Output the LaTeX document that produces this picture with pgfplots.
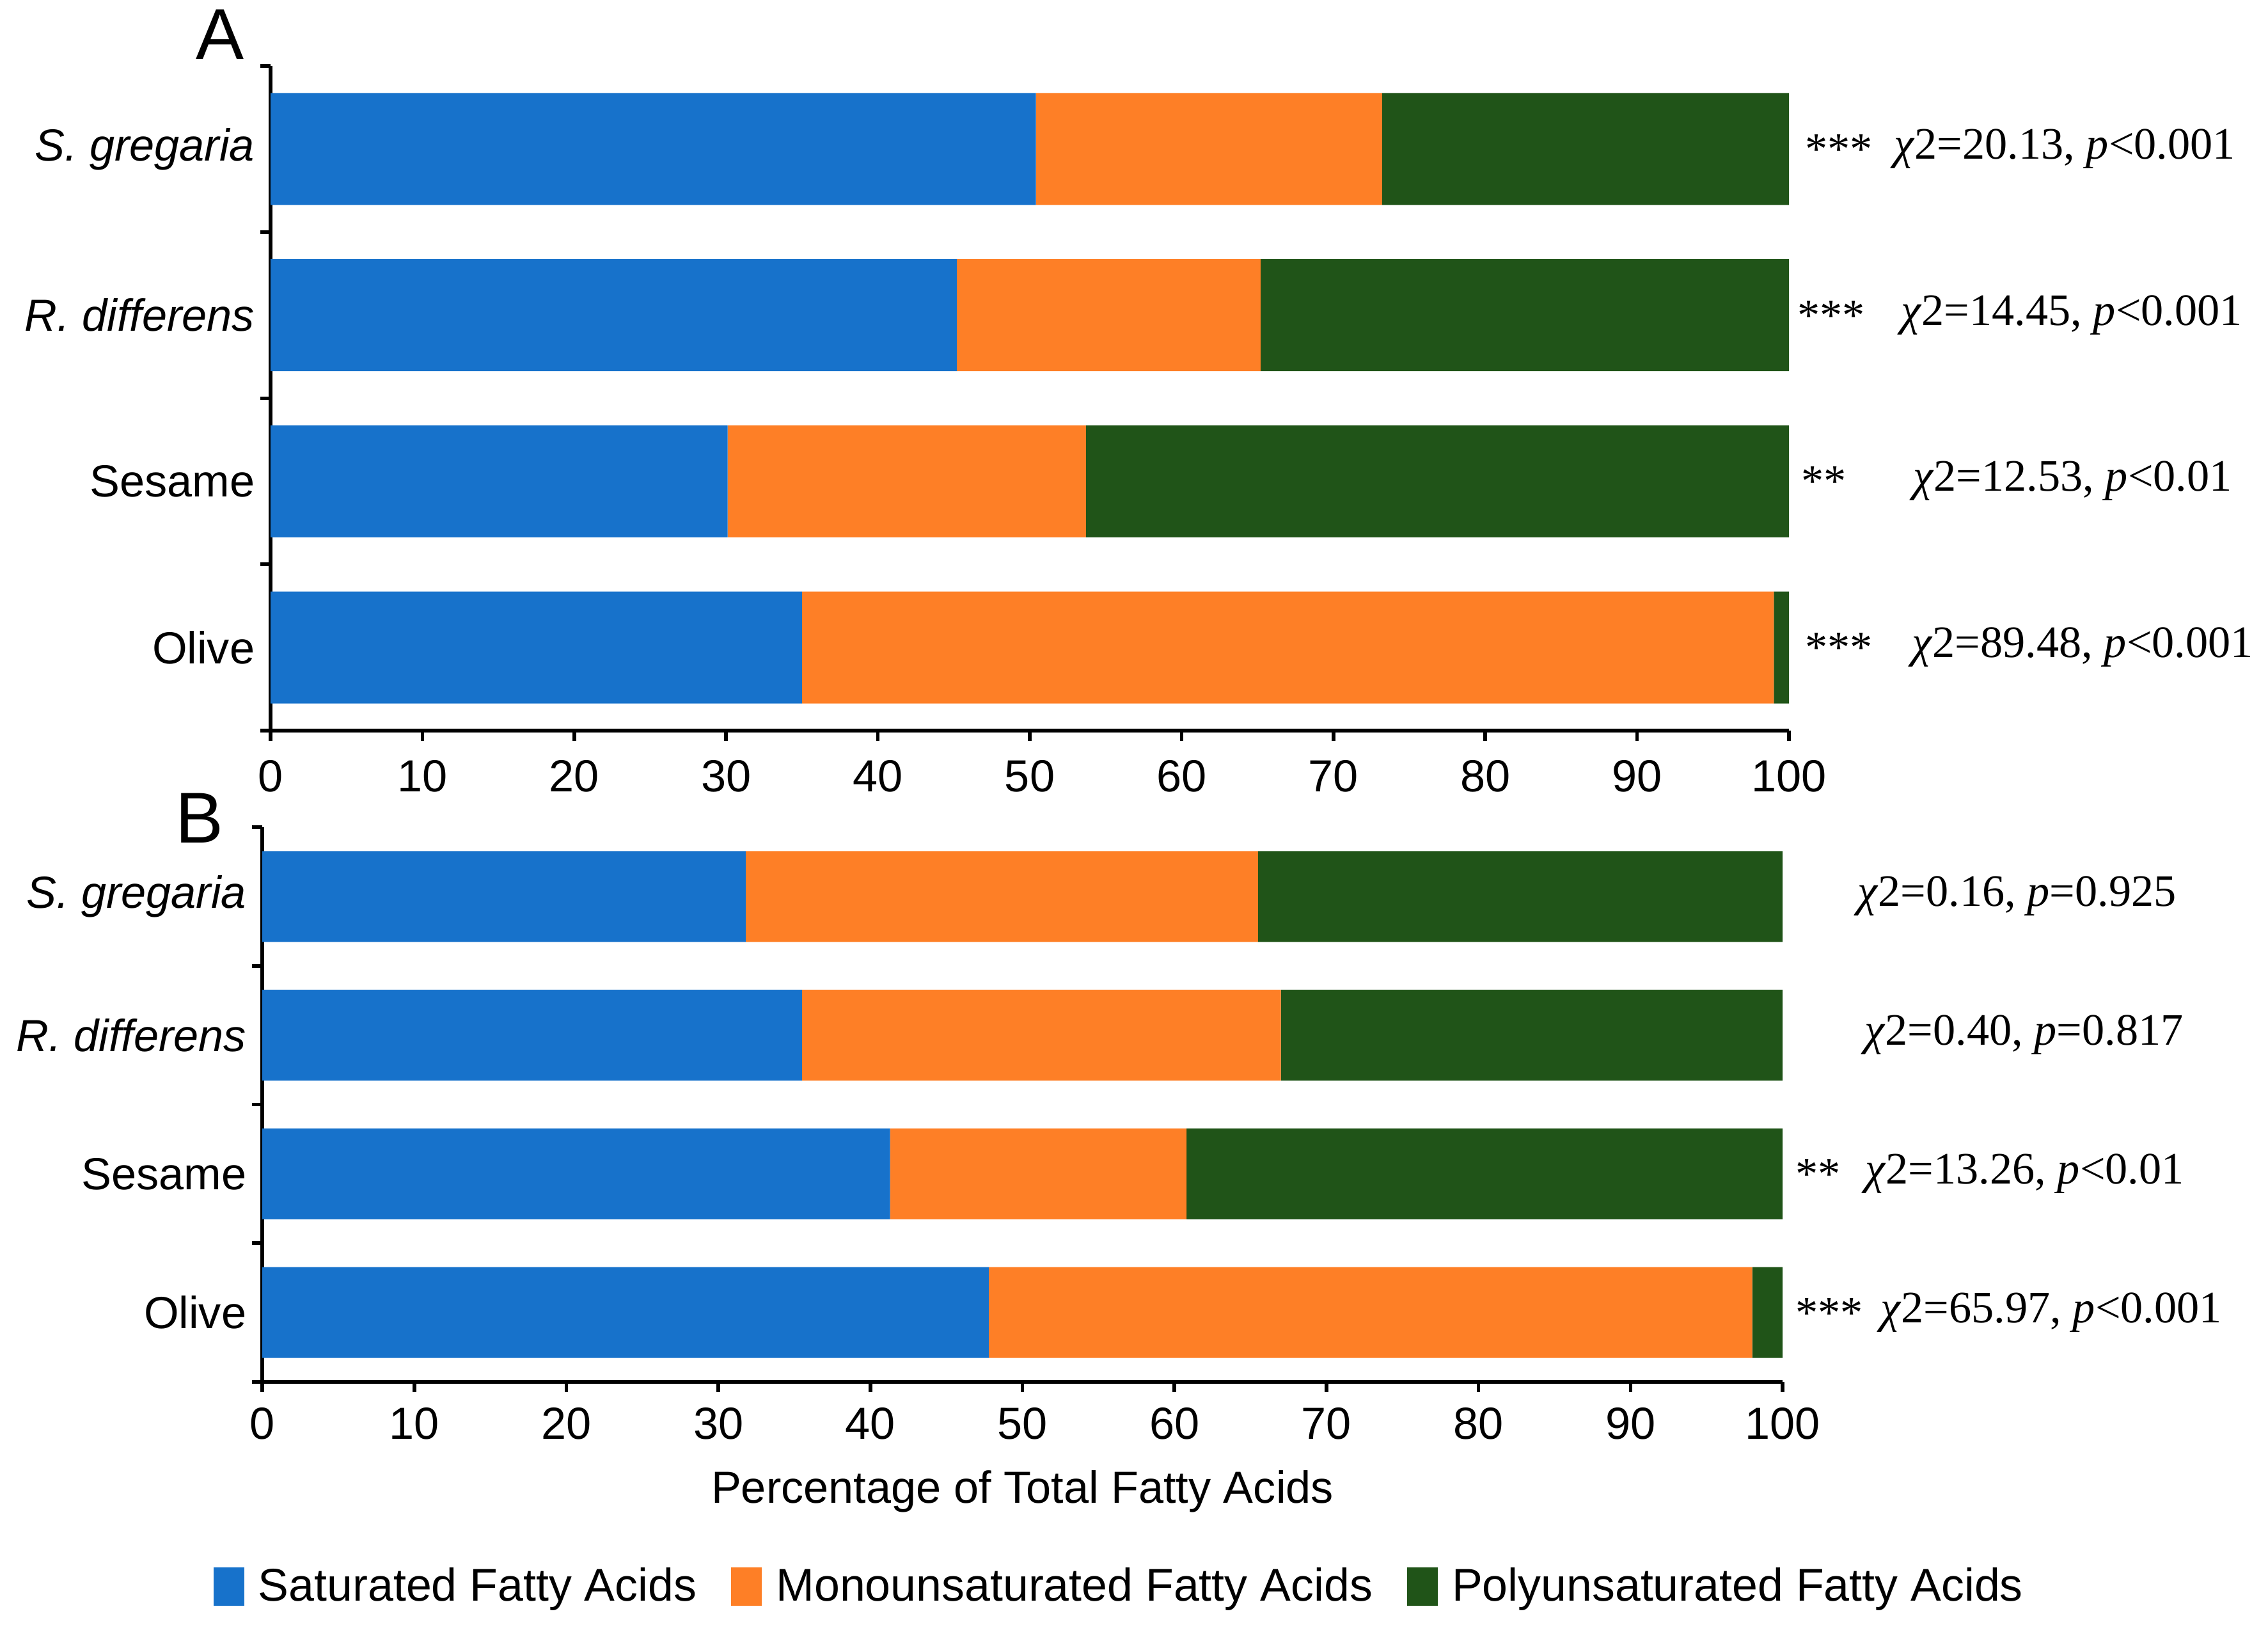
\documentclass[border=0pt]{standalone}
\usepackage{fontspec}
\setmainfont{Liberation Sans}
\newfontfamily\tnr{Liberation Serif}
\usepackage{pgfplots}
\usepackage{pgfplotstable}
\pgfplotsset{compat=1.18}

\definecolor{satblue}{RGB}{23,114,203}
\definecolor{monoorange}{RGB}{254,127,38}
\definecolor{polygreen}{RGB}{32,84,24}

% 0 = Olive, 1 = Sesame, 2 = R. differens, 3 = S. gregaria
\pgfplotstableread{
cat sfa mufa pufa
0 35.0 64.0 1.0
1 30.1 23.6 46.3
2 45.2 20.0 34.8
3 50.4 22.8 26.8
}\dataA
\pgfplotstableread{
cat sfa mufa pufa
0 47.8 50.2 2.0
1 41.3 19.5 39.2
2 35.5 31.5 33.0
3 31.8 33.7 34.5
}\dataB

\pgfplotsset{
  fa/.style={
    xbar stacked, scale only axis,
    xmin=0, xmax=100, ymin=-0.5, ymax=3.5,
    axis x line*=bottom, axis y line*=left,
    axis line style={line width=0.8pt},
    xtick={0,10,...,100},
    ytick={0,1,2,3},
    yticklabels={Olive, Sesame, \textit{R. differens}, \textit{S. gregaria}},
    yticklabel style={xshift=0.08cm},
    minor ytick={-0.5,0.5,1.5,2.5,3.5},
    tick align=outside,
    major tick length=0.08cm, minor tick length=0.08cm,
    tick style={line width=0.8pt, black},
    major y tick style={draw=none},
    /pgf/number format/assume math mode=true,
    clip=false,
  }
}

\newcommand{\stat}[1]{{\tnr #1}}

\begin{document}
\begin{tikzpicture}
\useasboundingbox (0,0) rectangle (17.73,12.75);

% panel A
\begin{axis}[fa, at={(2.115cm,7.04cm)}, anchor=south west,
  width=11.87cm, height=5.195cm, bar width=0.875cm,
  xticklabel style={yshift=-0.03cm}]
\addplot[fill=satblue, draw=none] table[x=sfa, y=cat] {\dataA};
\addplot[fill=monoorange, draw=none] table[x=mufa, y=cat] {\dataA};
\addplot[fill=polygreen, draw=none] table[x=pufa, y=cat] {\dataA};
\end{axis}

% panel B
\begin{axis}[fa, at={(2.05cm,1.95cm)}, anchor=south west,
  width=11.885cm, height=4.335cm, bar width=0.71cm,
  xlabel={Percentage of Total Fatty Acids},
  legend columns=3,
  legend style={draw=none, at={(0.566,-0.371)}, anchor=center,
    font=\fontsize{10.2}{12}\selectfont,
    /tikz/every odd column/.append style={column sep=0.04cm},
    /tikz/every even column/.append style={column sep=0.2cm}},
  legend image code/.code={\fill[#1] (0cm,-0.14cm) rectangle (0.24cm,0.16cm);}]
\addplot[fill=satblue, draw=none] table[x=sfa, y=cat] {\dataB};
\addplot[fill=monoorange, draw=none] table[x=mufa, y=cat] {\dataB};
\addplot[fill=polygreen, draw=none] table[x=pufa, y=cat] {\dataB};
\legend{Saturated Fatty Acids, Monounsaturated Fatty Acids, Polyunsaturated Fatty Acids}
\end{axis}

\node[font=\fontsize{16}{19}\selectfont] at (1.72,12.48) {A};
\node[font=\fontsize{16}{19}\selectfont] at (1.56,6.355) {B};

\begin{scope}[every node/.style={anchor=west, inner sep=0pt}]
% panel A statistics
\node at (14.105,11.585) {\stat{\raisebox{-0.4ex}{***}}};
\node at (14.80,11.585) {\stat{\textit{χ}2=20.13, \textit{p}<0.001}};
\node at (14.045,10.285) {\stat{\raisebox{-0.4ex}{***}}};
\node at (14.855,10.285) {\stat{\textit{χ}2=14.45, \textit{p}<0.001}};
\node at (14.075,8.99) {\stat{\raisebox{-0.4ex}{**}}};
\node at (14.95,8.99) {\stat{\textit{χ}2=12.53, \textit{p}<0.01}};
\node at (14.105,7.69) {\stat{\raisebox{-0.4ex}{***}}};
\node at (14.94,7.69) {\stat{\textit{χ}2=89.48, \textit{p}<0.001}};
% panel B statistics
\node at (14.515,5.745) {\stat{\textit{χ}2=0.16, \textit{p}=0.925}};
\node at (14.57,4.66) {\stat{\textit{χ}2=0.40, \textit{p}=0.817}};
\node at (14.03,3.575) {\stat{\raisebox{-0.4ex}{**}}};
\node at (14.575,3.575) {\stat{\textit{χ}2=13.26, \textit{p}<0.01}};
\node at (14.03,2.49) {\stat{\raisebox{-0.4ex}{***}}};
\node at (14.695,2.49) {\stat{\textit{χ}2=65.97, \textit{p}<0.001}};
\end{scope}
\end{tikzpicture}
\end{document}
